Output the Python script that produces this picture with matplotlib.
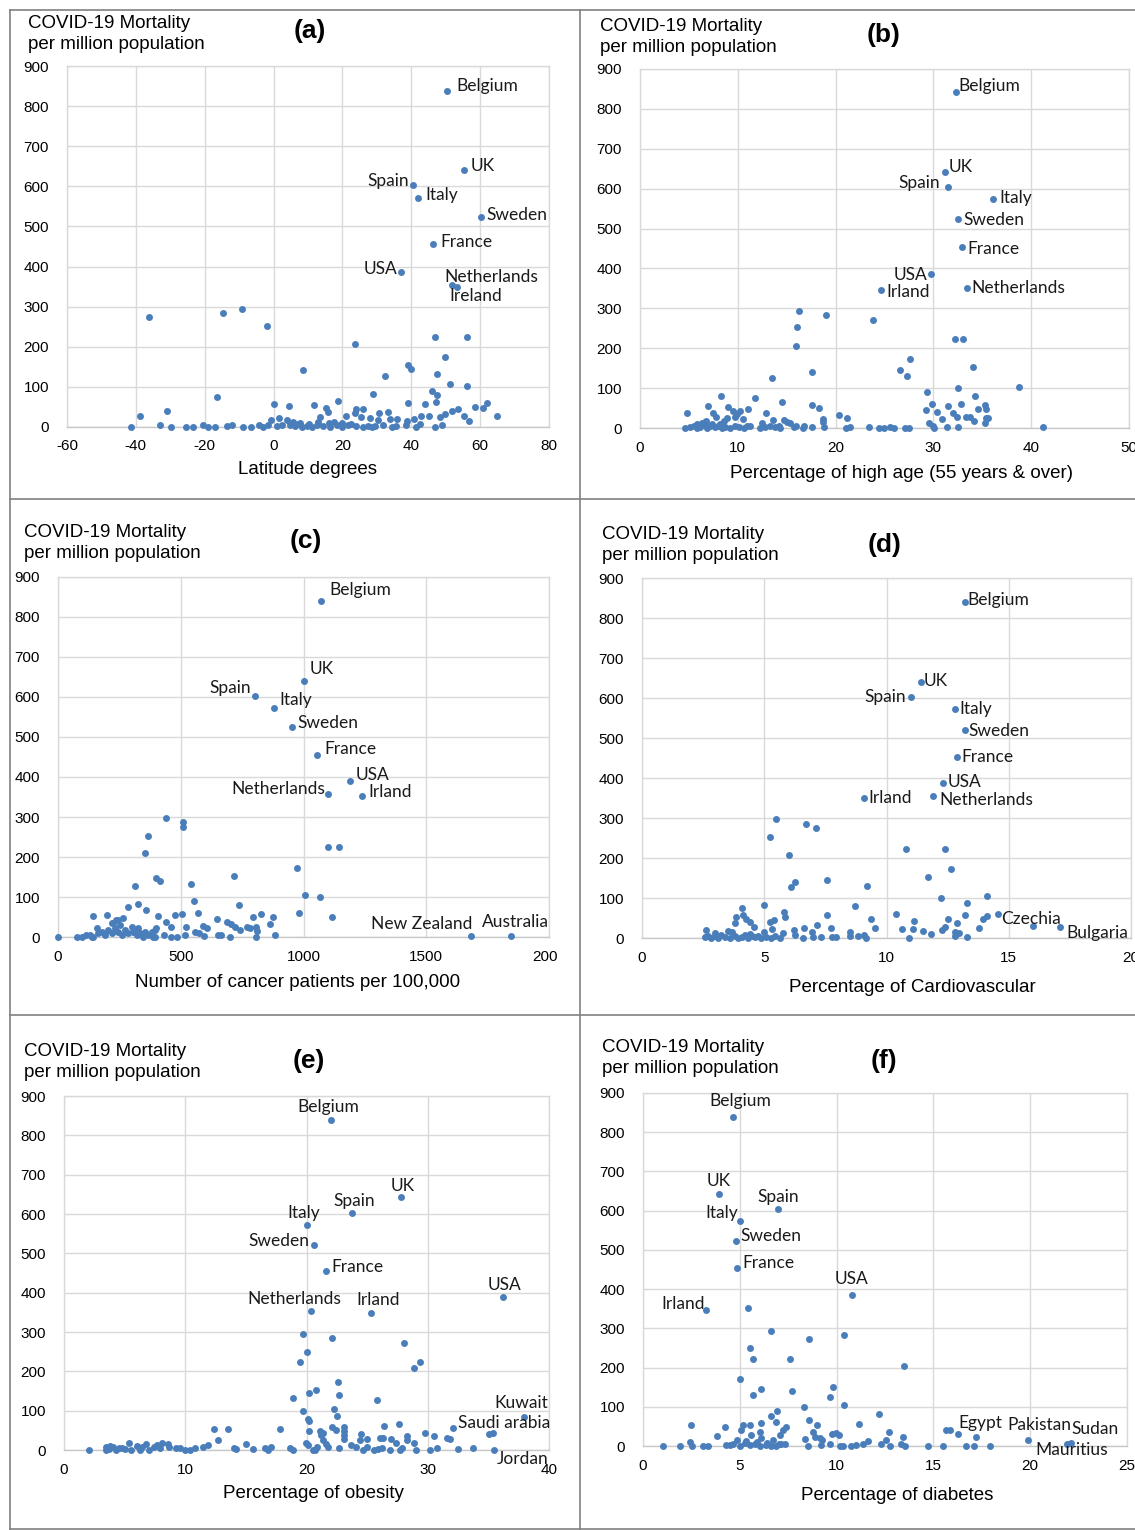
import numpy as np
import matplotlib.pyplot as plt
from matplotlib.lines import Line2D
from matplotlib.patches import Rectangle

plt.rcParams["axes.unicode_minus"] = False

W, H = 1135, 1530
BLUE = "#4a7ebb"
GRID = "#d9d9d9"
TICK_FONT = "Liberation Sans"
LABEL_FONT = "Lato"

# ====== DATA ======
# (a) latitude
a_names = ["Belgium", "UK", "Spain", "Italy", "Sweden", "France", "USA", "Netherlands", "Ireland"]
a_lx = [50.4, 55.3, 40.5, 42.0, 60.2, 46.3, 37.0, 51.8, 53.3]
a_ly = [838, 641, 603, 571, 524, 456, 387, 354, 349]
a_x = [-36.1, -14.6, -9.3, -2.0, 23.6, 8.5, -16.5, 46.9, 56.1, 49.8, 39.1, 39.8, 32.4, 47.5, 51.2,
       56.1, 46.1, 47.5, 29.0, 18.6, 39.0, 47.2, 44.1, 58.5, 60.7, 61.9, 0.1, 4.4, 11.7, 15.1,
       15.7, -30.9, -38.7, 64.8, 53.6, 51.8, 49.9, 48.3, 55.3, 56.8, 20.9, 23.8, 26.0, 23.6, 25.5,
       28.1, 30.7, 33.3, 30.4, 33.8, 35.9, 38.8, 40.8, 42.7, 45.0, 13.4, 1.5, 3.8, -0.8,
       -41.4, -33.0, -29.9, -25.4, -23.3, -20.6, -19.0, -17.0, -13.6, -12.2, -9.0, -6.6, -4.2,
       -3.0, 0.9, 4.8, 6.2, 7.2, 8.2, 9.6, 11.1, 12.5, 14.4, 16.4, 18.3, 19.8, 21.7, 26.1, 27.5,
       28.5, 29.4, 31.9, 34.3, 35.7, 38.6, 41.5, 42.5, 46.9, 48.8,
       5.5, 7.8, 10.3, 13.0, 16.0, 17.5, 20.0, 22.5, 24.0, 2.5, -1.5]
a_y = [274, 285, 294, 252, 207, 141, 76, 224, 224, 175, 155, 145, 127, 132, 106,
       101, 90, 81, 83, 66, 60, 62, 57, 51, 48, 61, 57, 52, 55, 48,
       37, 41, 27, 27, 45, 39, 32, 25, 27, 15, 28, 45, 45, 34, 26,
       22, 34, 38, 17, 20, 20, 15, 19, 28, 27, 24, 22, 17, 17,
       1, 5, 1, 1, 1, 6, 1, 1, 3, 6, 1, 1, 5,
       1, 3, 5, 2, 8, 1, 3, 1, 5, 2, 1, 4, 1, 6, 1, 3,
       1, 2, 5, 1, 3, 5, 1, 7, 1, 4,
       12, 10, 7, 12, 9, 12, 10, 8, 3, 6, 4]

# (b) high age
b_names = ["Belgium", "UK", "Spain", "Italy", "Sweden", "France", "USA", "Irland", "Netherlands"]
b_lx = [32.3, 31.2, 31.5, 36.1, 32.5, 32.9, 29.8, 24.6, 33.4]
b_ly = [842, 642, 604, 574, 524, 454, 386, 346, 351]
b_x = [16.3, 19.0, 23.8, 16.1, 15.9, 32.2, 33.0, 27.6, 26.6, 27.3, 34.0, 17.6, 13.5, 38.8, 32.5,
       29.3, 8.3, 11.8, 34.3, 4.8, 7.0, 9.0, 11.0, 14.5, 17.6, 18.3, 29.9, 29.2, 30.4, 31.5,
       32.8, 34.6, 35.3, 35.4, 32.0, 32.4, 33.3, 33.7, 34.2, 35.4, 35.6, 35.3, 30.9, 20.3, 21.2,
       18.7, 18.7, 12.9, 13.6, 14.7, 15.0, 15.3, 7.5, 7.8, 6.7, 8.9, 8.6, 9.5, 9.9, 10.2, 10.5,
       9.7, 10.9, 12.5, 14.2, 16.8, 17.6, 18.8, 21.1, 21.5, 23.4, 24.4, 24.9, 25.6, 26.0, 27.1,
       27.5, 29.5, 30.0, 30.1, 31.4, 32.5, 41.2,
       4.6, 5.1, 5.5, 5.8, 6.1, 6.5, 6.8, 7.2, 7.7, 8.0, 8.4, 8.7, 9.2, 9.7, 10.1, 10.6, 11.2,
       12.3, 12.8, 13.3, 13.8, 14.3, 15.7, 16.0, 16.7, 5.8, 6.3, 6.6, 7.4, 8.2]
b_y = [294, 284, 272, 252, 206, 223, 223, 173, 145, 130, 152, 140, 126, 104, 100,
       89, 81, 74, 79, 38, 55, 53, 47, 64, 58, 50, 60, 45, 41, 55,
       60, 48, 57, 48, 37, 28, 27, 27, 18, 26, 24, 13, 23, 32, 24,
       23, 15, 38, 20, 20, 16, 13, 37, 28, 18, 24, 18, 43, 35, 43, 23,
       28, 5, 12, 5, 5, 3, 2, 0, 2, 3, 1, 0, 3, 1, 1,
       1, 12, 5, 1, 3, 3, 3,
       0, 2, 5, 1, 3, 8, 0, 4, 2, 6, 1, 3, 0, 5, 2, 1, 4,
       1, 3, 6, 2, 0, 2, 4, 1, 10, 12, 15, 9, 11]

# (c) cancer patients
c_names = ["Belgium", "UK", "Spain", "Italy", "Sweden", "France", "USA", "Netherlands", "Irland",
           "New Zealand", "Australia"]
c_lx = [1073, 1000, 801, 878, 955, 1057, 1191, 1098, 1240, 1683, 1846]
c_ly = [840, 640, 602, 572, 525, 455, 390, 357, 352, 2, 2]
c_x = [438, 509, 509, 365, 355, 401, 417, 314, 542, 717, 974, 1100, 1145, 1007, 1068, 982, 1117,
       324, 287, 360, 552, 738, 144, 201, 266, 245, 218, 408, 438, 478, 507, 572, 462, 523, 591,
       608, 649, 690, 706, 720, 740, 768, 781, 805, 793, 825, 874, 865, 809, 882, 557, 573, 595,
       652, 665, 702, 805, 516, 486, 459, 432, 394, 1, 76, 96, 116, 137,
       157, 164, 178, 191, 205, 218, 232, 245, 259, 272, 286, 300, 306, 320, 333, 347, 367, 381,
       388, 394, 401, 354, 144, 130, 225, 238, 252, 313, 327]
c_y = [297, 287, 276, 253, 209, 147, 141, 127, 133, 152, 173, 226, 226, 105, 101, 61, 49,
       83, 74, 67, 89, 79, 53, 55, 47, 42, 36, 53, 38, 56, 57, 61, 26, 26, 27,
       23, 44, 38, 32, 26, 17, 26, 22, 26, 51, 57, 49, 32, 16, 4, 13, 9, 2,
       5, 5, 1, 1, 5, 1, 1, 4, 1, 0, 1, 1, 5, 1,
       22, 9, 13, 5, 17, 9, 22, 13, 5, 17, 9, 26, 13, 5, 9, 1, 5, 13,
       1, 17, 22, 13, 1, 5, 34, 42, 30, 13, 22]

# (d) cardiovascular
d_names = ["Belgium", "UK", "Spain", "Italy", "Sweden", "France", "USA", "Irland", "Netherlands",
           "Czechia", "Bulgaria"]
d_lx = [13.2, 11.4, 11.0, 12.8, 13.2, 12.9, 12.3, 9.1, 11.9, 16.0, 17.1]
d_ly = [840, 640, 602, 572, 520, 452, 387, 350, 355, 30, 27]
d_x = [5.5, 6.7, 7.1, 5.25, 6.0, 10.8, 12.4, 12.65, 11.7, 6.1, 6.27, 7.58, 9.2, 12.24, 13.3, 14.1,
       4.1, 5.0, 5.8, 5.84, 7.58, 8.7, 10.4, 9.35, 9.55, 11.14, 11.1, 10.65, 11.5, 11.8, 10.94,
       12.5, 12.4, 12.25, 12.9, 12.8, 12.95, 12.8, 13.2, 13.96, 14.1, 13.8, 14.56, 13.3, 2.6,
       3.86, 3.8, 3.5, 4.14, 4.27, 4.41, 4.6, 5.22, 5.39, 5.33, 5.77, 8.49, 8.49, 8.83, 9.1, 9.17,
       6.2, 6.26, 6.63, 6.94, 7.17, 7.74, 6.58, 6.99, 7.33, 7.78, 7.92,
       2.57, 2.71, 2.84, 2.98, 3.12, 3.25, 3.39, 3.59, 3.8, 3.93, 4.07, 4.2, 4.34, 4.48, 4.61,
       4.75, 4.88, 5.09, 5.29, 5.43, 5.63, 3.0, 3.7, 4.4, 5.0]
d_y = [297, 285, 276, 252, 207, 223, 223, 173, 152, 127, 141, 145, 131, 100, 88, 105,
       74, 82, 66, 52, 57, 79, 60, 47, 25, 42, 23, 23, 18, 11, 1,
       48, 28, 20, 37, 16, 13, 5, 57, 48, 55, 26, 61, 2, 20,
       53, 38, 18, 57, 47, 40, 28, 40, 45, 23, 13, 16, 5, 5, 7, 0,
       20, 7, 26, 16, 32, 25, 0, 3, 2, 3, 2,
       2, 6, 0, 4, 1, 7, 2, 0, 5, 1, 3, 8, 0, 4, 2,
       6, 1, 3, 0, 5, 1, 12, 14, 10, 15]

# (e) obesity
e_names = ["Belgium", "UK", "Spain", "Italy", "Sweden", "France", "USA", "Netherlands", "Irland",
           "Kuwait", "Saudi arabia", "Jordan"]
e_lx = [22.0, 27.8, 23.75, 20.0, 20.6, 21.6, 36.2, 20.4, 25.3, 37.9, 32.1, 35.5]
e_ly = [838, 643, 602, 572, 521, 455, 389, 354, 348, 83, 57, 1]
e_x = [19.7, 22.1, 20.0, 19.5, 28.0, 29.4, 28.9, 22.6, 20.8, 20.2, 22.7, 18.9, 25.8, 19.7, 22.3,
       22.5, 20.1, 20.2, 12.4, 13.5, 17.8, 20.2, 21.1, 21.4, 22.1, 22.4, 23.1, 23.1, 23.1, 23.1,
       26.4, 27.6, 24.5, 25.0, 26.1, 26.3, 27.0, 27.4, 28.3, 28.3, 29.8, 30.5, 28.9, 31.6, 31.8,
       35.05, 35.4, 30.2, 30.8, 32.5, 33.7, 21.2, 21.4, 21.6, 21.8, 19.96, 20.15, 20.5, 20.9,
       20.7, 22.7, 23.7, 24.1, 24.4, 24.7, 24.96, 25.6, 25.9, 26.2, 26.9, 27.7, 27.85, 29.0,
       18.6, 18.9, 16.6, 16.8, 17.1, 15.6, 15.0, 14.0, 14.2, 12.7, 11.5, 11.9, 10.8, 10.4, 10.0,
       9.6, 8.6, 8.05, 8.7, 7.9, 7.4, 7.0, 6.4, 6.3, 5.4, 5.5, 4.75, 4.3, 4.07, 3.8, 3.5, 3.46,
       2.1, 4.5, 5.0, 6.0, 7.7, 9.2, 3.7, 6.8]
e_y = [294, 284, 250, 225, 273, 225, 208, 172, 153, 146, 140, 131, 126, 100, 104,
       87, 79, 74, 54, 54, 54, 49, 49, 44, 58, 52, 58, 48, 38, 28,
       61, 66, 41, 28, 31, 30, 28, 18, 36, 26, 44, 36, 19, 30, 27,
       40, 42, 0, 5, 3, 5, 38, 25, 14, 7, 17, 13, 0, 7,
       0, 6, 12, 7, 25, 0, 8, 0, 2, 4, 0, 0, 4, 0,
       4, 0, 4, 0, 7, 2, 15, 4, 2, 25, 8, 13, 4, 0, 0,
       4, 14, 19, 7, 4, 7, 0, 8, 0, 19, 0, 4, 0, 8, 11, 7, 0,
       0, 6, 3, 10, 12, 6, 2, 14]

# (f) diabetes
f_names = ["Belgium", "UK", "Spain", "Italy", "Sweden", "France", "USA", "Irland", "Egypt",
           "Pakistan", "Sudan", "Mauritius"]
f_lx = [4.64, 3.92, 6.96, 5.0, 4.8, 4.85, 10.77, 3.25, 15.65, 19.9, 22.1, 21.9]
f_ly = [839, 643, 604, 574, 523, 454, 385, 347, 42, 15, 8, 4]
f_x = [5.43, 6.63, 8.59, 10.4, 5.55, 5.7, 7.61, 13.5, 5.02, 6.12, 5.7, 7.71, 9.81, 9.64, 10.4,
       8.31, 12.18, 6.94, 6.63, 6.89, 2.46, 4.21, 3.83, 5.07, 5.17, 5.51, 5.6, 6.08, 6.03, 6.12,
       7.4, 7.23, 7.06, 6.72, 8.59, 9.0, 8.78, 8.86, 9.12, 9.26, 9.74, 9.98, 10.12, 11.15, 12.73,
       12.56, 12.3, 13.42, 13.33, 16.29, 17.2, 16.68, 17.1, 17.9, 14.72, 15.48, 13.54, 12.76,
       11.6, 11.35, 11.0, 10.75, 10.33, 10.15, 9.64, 9.21, 8.52, 8.35, 15.85, 2.42, 2.51, 1.91,
       1.05, 3.11, 3.37, 4.31, 4.66, 4.83, 5.0, 5.26, 5.51, 5.77, 6.03, 6.37, 6.63, 6.89, 7.15,
       7.32, 5.9, 6.4, 7.0, 5.3, 4.5]
f_y = [352, 294, 272, 284, 251, 222, 222, 205, 171, 145, 130, 140, 150, 125, 104,
       99, 82, 88, 76, 62, 54, 48, 25, 42, 54, 54, 28, 58, 36, 20,
       49, 41, 28, 15, 66, 54, 36, 24, 20, 15, 30, 34, 28, 56, 36,
       15, 5, 22, 4, 30, 22, 0, 1, 0, 0, 0, 0, 0,
       14, 5, 2, 0, 0, 1, 5, 2, 1, 17, 40, 11, 0, 0,
       0, 0, 0, 2, 5, 15, 0, 7, 2, 5, 0, 3, 0, 1, 4,
       5, 10, 8, 6, 12, 3]

X_LABELS = ["Latitude degrees", "Percentage of high age (55 years & over)",
            "Number of cancer patients per 100,000", "Percentage of Cardiovascular",
            "Percentage of obesity", "Percentage of diabetes"]
X_TICKS = [[-60, -40, -20, 0, 20, 40, 60, 80], [0, 10, 20, 30, 40, 50],
           [0, 500, 1000, 1500, 2000], [0, 5, 10, 15, 20], [0, 10, 20, 30, 40], [0, 5, 10, 15, 20, 25]]
Y_TICKS = list(range(0, 1000, 100))

# ====== LAYOUT (pixels) ======
# plot area: left, right, top, bottom
RECTS = [(67, 549, 66, 427), (640, 1129, 69, 428), (58, 549, 577, 937),
         (642, 1131, 578, 938), (64, 549, 1096, 1450), (643, 1127, 1093, 1446)]
# left edge and vertical middle of the two-line title
TITLE_POS = [(28, 34), (600, 37), (24, 543), (602, 545), (24, 1062), (602, 1058)]
LETTER_POS = [(310, 31), (884, 35), (306, 541), (885, 545), (309, 1061), (884, 1061)]
XLABEL_Y = [470, 474, 982, 987, 1494, 1495]
XLABEL_X = [307, 902, 298, 912, 313, 897]

# label offsets (ha, dx, dy) in pixels, dy upward
OFFS = [
    [("left", 9, 5), ("left", 7, 4), ("right", -4, 4), ("left", 7, 3), ("left", 6, 2),
     ("left", 7, 2), ("right", -4, 3), ("left", -8, 8), ("left", -8, -9)],
    [("left", 2, 6), ("left", 3, 5), ("right", -8, 4), ("left", 6, 1), ("left", 6, -1),
     ("left", 6, -2), ("right", -4, -1), ("left", 6, -2), ("left", 5, 0)],
    [("left", 8, 11), ("left", 6, 12), ("right", -4, 8), ("left", 6, 8), ("left", 5, 4),
     ("left", 7, 6), ("left", 5, 6), ("right", -2, 5), ("left", 6, 4), ("right", 1, 12),
     ("left", -29, 14)],
    [("left", 3, 2), ("left", 3, 1), ("right", -5, 0), ("left", 4, 0), ("left", 4, -1),
     ("left", 4, 0), ("left", 5, 1), ("left", 4, 0), ("left", 6, -4), ("left", -32, 7),
     ("left", 6, -6)],
    [("center", -2, 13), ("center", 2, 11), ("center", 2, 12), ("center", -3, 12),
     ("right", -4, 4), ("left", 5, 4), ("center", 2, 12), ("center", -17, 12),
     ("center", 7, 13), ("center", -2, 14), ("left", 5, 5), ("left", 2, -9)],
    [("center", 7, 16), ("center", 0, 13), ("center", 0, 12), ("right", -2, 8),
     ("left", 4, 5), ("left", 5, 5), ("center", 0, 16), ("right", -1, 6),
     ("left", 12, 7), ("left", -21, 15), ("left", 1, 14), ("left", -32, -6)],
]

PANELS = [
    (a_x, a_y, a_names, a_lx, a_ly, (-60, 80)),
    (b_x, b_y, b_names, b_lx, b_ly, (0, 50)),
    (c_x, c_y, c_names, c_lx, c_ly, (0, 2000)),
    (d_x, d_y, d_names, d_lx, d_ly, (0, 20)),
    (e_x, e_y, e_names, e_lx, e_ly, (0, 40)),
    (f_x, f_y, f_names, f_lx, f_ly, (0, 25)),
]


def fx(px):
    return px / W


def fy(py):
    return 1 - py / H


def main():
    fig = plt.figure(figsize=(W / 100, H / 100), dpi=100)
    fig.patch.set_facecolor("white")

    for i, (xs, ys, names, lx, ly, xlim) in enumerate(PANELS):
        l, r, t, b = RECTS[i]
        ax = fig.add_axes([fx(l), fy(b), (r - l) / W, (b - t) / H])
        ax.scatter(xs, ys, s=25, color=BLUE, linewidths=0, zorder=3, clip_on=False)
        ax.scatter(lx, ly, s=25, color=BLUE, linewidths=0, zorder=3, clip_on=False)

        ax.set_xlim(*xlim)
        ax.set_ylim(0, 900)
        ax.set_xticks(X_TICKS[i])
        ax.set_xticklabels([str(v) for v in X_TICKS[i]], fontfamily=TICK_FONT, fontsize=11)
        ax.set_yticks(Y_TICKS)
        ax.set_yticklabels([str(v) for v in Y_TICKS], fontfamily=TICK_FONT, fontsize=11)
        ax.tick_params(length=0, pad=9, colors="black")
        ax.tick_params(axis="y", pad=13)
        ax.grid(True, color=GRID, linewidth=1)
        ax.set_axisbelow(True)
        for sp in ax.spines.values():
            sp.set_color(GRID)
            sp.set_linewidth(1)
        ax.spines["bottom"].set_color("#c8c8c8")

        for name, x, y, (ha, dx, dy) in zip(names, lx, ly, OFFS[i]):
            ax.annotate(name, (x, y), xytext=(dx, dy), textcoords="offset pixels",
                        ha=ha, va="center", fontsize=12.5, fontfamily=LABEL_FONT,
                        color="#1a1a1a", zorder=4, annotation_clip=False)

        tx, ty = TITLE_POS[i]
        fig.text(fx(tx), fy(ty), "COVID-19 Mortality\nper million population",
                 ha="left", va="center", fontsize=13.5, fontfamily=TICK_FONT,
                 linespacing=1.25)
        lxp, lyp = LETTER_POS[i]
        fig.text(fx(lxp), fy(lyp), "(%s)" % "abcdef"[i], ha="center", va="center",
                 fontsize=19, fontweight="bold", fontfamily=TICK_FONT)
        fig.text(fx(XLABEL_X[i]), fy(XLABEL_Y[i]), X_LABELS[i], ha="center", va="center",
                 fontsize=13.5, fontfamily=TICK_FONT)

    # crop of panel (c)'s last tick label, as in the source image
    fig.add_artist(Rectangle((fx(558), fy(975)), 21 / W, 35 / H, transform=fig.transFigure,
                             facecolor="white", edgecolor="none", zorder=5))

    # panel borders
    border = "#808080"
    for py in (10, 499, 1015, 1529):
        fig.add_artist(Line2D([fx(10), 1], [fy(py), fy(py)], transform=fig.transFigure,
                              color=border, linewidth=1.2, zorder=6))
    for px in (10, 580):
        fig.add_artist(Line2D([fx(px), fx(px)], [fy(10), fy(1530)], transform=fig.transFigure,
                              color=border, linewidth=1.2, zorder=6))

    fig.savefig("out.png", dpi=100, facecolor="white")


if __name__ == "__main__":
    main()
